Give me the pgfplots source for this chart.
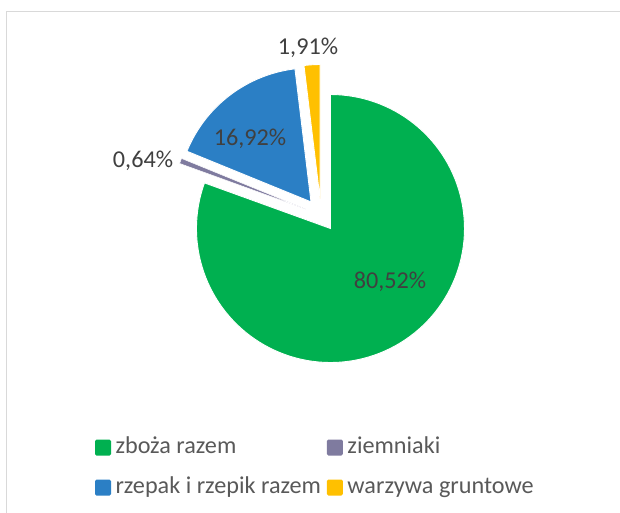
\documentclass[border=0pt]{standalone}
\usepackage{pgfplots}
\pgfplotsset{compat=1.18}
\usepackage{fontspec}
\setmainfont{Carlito}
\definecolor{cGreen}{HTML}{00B050}
\definecolor{cGray}{HTML}{7F7B9F}
\definecolor{cBlue}{HTML}{2B7FC5}
\definecolor{cYellow}{HTML}{FFC000}
\definecolor{frameGray}{HTML}{D9D9D9}
\definecolor{legText}{HTML}{595959}
\definecolor{labText}{HTML}{404040}
\begin{document}
\begin{tikzpicture}
\useasboundingbox (0,0) rectangle (620pt,512pt);
% data (percent)
\def\pA{80.52}\def\pB{0.64}\def\pC{16.92}\def\pD{1.91}
% geometry (px)
\def\cx{321}\def\cy{297}\def\R{134}\def\ex{16.5}
\pgfmathsetmacro\tot{\pA+\pB+\pC+\pD}
\pgfmathsetmacro\aA{90}
\pgfmathsetmacro\aB{\aA-3.6*(\pA/\tot)*100}
\pgfmathsetmacro\aC{\aB-3.6*(\pB/\tot)*100}
\pgfmathsetmacro\aD{\aC-3.6*(\pC/\tot)*100}
\pgfmathsetmacro\aE{\aD-3.6*(\pD/\tot)*100}
\pgfmathsetmacro\vAx{\cx+\ex*cos((\aA+\aB)/2)}\pgfmathsetmacro\vAy{\cy+\ex*sin((\aA+\aB)/2)}
\pgfmathsetmacro\vBx{\cx+\ex*cos((\aB+\aC)/2)}\pgfmathsetmacro\vBy{\cy+\ex*sin((\aB+\aC)/2)}
\pgfmathsetmacro\vCx{\cx+\ex*cos((\aC+\aD)/2)}\pgfmathsetmacro\vCy{\cy+\ex*sin((\aC+\aD)/2)}
\pgfmathsetmacro\vDx{\cx+\ex*cos((\aD+\aE)/2)}\pgfmathsetmacro\vDy{\cy+\ex*sin((\aD+\aE)/2)}
\begin{axis}[
  at={(0,0)}, anchor=origin,
  width=620pt, height=512pt, scale only axis,
  xmin=0, xmax=620, ymin=0, ymax=512,
  hide axis, clip=false,
  legend columns=2,
  legend cell align=left,
  legend image code/.code={\fill[#1,draw=none,rounded corners=1.5pt] (0pt,-8pt) rectangle (16pt,8pt);},
  legend style={draw=none, fill=none, inner sep=0pt, outer sep=0pt,
    at={(axis cs:95,75)}, anchor=north west,
    font=\fontsize{24.2}{29}\selectfont, text=legText,
    nodes={inner sep=0pt, text height=16pt, text depth=5pt},
    column sep=4.5pt, row sep=19pt,
    /tikz/every even column/.append style={column sep=6pt}},
]
\addplot[fill=cGreen, draw=white, line width=0.9pt, domain=\aB:\aA, samples=120, variable=\t]
  ({\vAx+\R*cos(\t)},{\vAy+\R*sin(\t)}) -- (axis cs:\vAx,\vAy) -- cycle;
\addlegendentry{zboża razem}
\addplot[fill=cGray, draw=white, line width=0.5pt, domain=\aC:\aB, samples=6, variable=\t]
  ({\vBx+\R*cos(\t)},{\vBy+\R*sin(\t)}) -- (axis cs:\vBx,\vBy) -- cycle;
\addlegendentry{ziemniaki}
\addplot[fill=cBlue, draw=white, line width=0.9pt, domain=\aD:\aC, samples=40, variable=\t]
  ({\vCx+\R*cos(\t)},{\vCy+\R*sin(\t)}) -- (axis cs:\vCx,\vCy) -- cycle;
\addlegendentry{rzepak i rzepik razem}
\addplot[fill=cYellow, draw=white, line width=0.9pt, domain=\aE:\aD, samples=8, variable=\t]
  ({\vDx+\R*cos(\t)},{\vDy+\R*sin(\t)}) -- (axis cs:\vDx,\vDy) -- cycle;
\addlegendentry{warzywa gruntowe}
% data labels
\begin{scope}[every node/.style={font=\fontsize{24.2}{29}\selectfont, text=labText, inner sep=0pt}]
\node at (axis cs:390,230) {80,52\%};
\node at (axis cs:250,373) {16,92\%};
\node at (axis cs:308,464) {1,91\%};
\node at (axis cs:143,351) {0,64\%};
\end{scope}
% chart area frame
\draw[frameGray, line width=1.5pt] (axis cs:6.7,-5) -- (axis cs:6.7,500.7) -- (axis cs:625,500.7);
\end{axis}
\end{tikzpicture}
\end{document}
